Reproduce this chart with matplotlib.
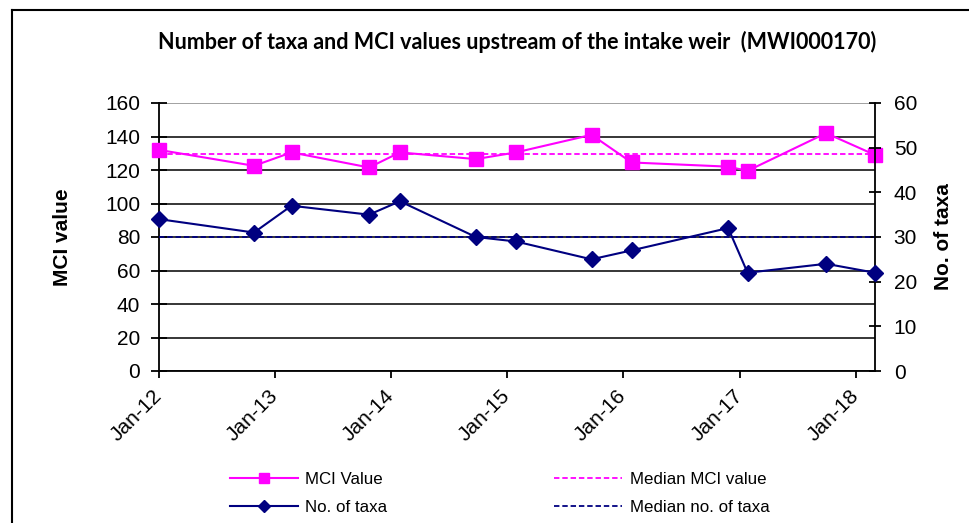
import matplotlib
matplotlib.use("Agg")
import matplotlib.pyplot as plt
import matplotlib.dates as mdates
from matplotlib.lines import Line2D
import pandas as pd

# ---- data ----
sample_dates = ["2012-01-01", "2012-10-26", "2013-02-21", "2013-10-23", "2014-01-28",
                "2014-09-24", "2015-01-28", "2015-09-23", "2016-01-27", "2016-11-26",
                "2017-01-26", "2017-09-30", "2018-03-03"]
mci_values = [132, 122.5, 130.5, 121.5, 130.5, 126.5, 130.5, 141, 124.5, 122, 119.5, 142, 129]
taxa_counts = [34, 31, 37, 35, 38, 30, 29, 25, 27, 32, 22, 24, 22]
median_mci = 129.5
median_taxa = 30
tick_years = ["2012-01-01", "2013-01-01", "2014-01-01", "2015-01-01",
              "2016-01-01", "2017-01-01", "2018-01-01"]
left_ticks = [0, 20, 40, 60, 80, 100, 120, 140, 160]
right_ticks = [0, 10, 20, 30, 40, 50, 60]

title = "Number of taxa and MCI values upstream of the intake weir  (MWI000170)"
labels = ["MCI Value", "No. of taxa", "Median MCI value", "Median no. of taxa"]

MAG = "#FF00FF"
NAVY = "#000080"

dates = pd.to_datetime(sample_dates)
ticks = pd.to_datetime(tick_years)

plt.rcParams['font.family'] = ['Liberation Sans', 'DejaVu Sans']

fig = plt.figure(figsize=(9.70, 5.23), dpi=100)
ax = fig.add_axes([159/970, 1-371/523, (875-159)/970, (371-103)/523])
ax2 = ax.twinx()

# grid
ax.set_ylim(0, 160)
ax.set_yticks(left_ticks)
ax.yaxis.grid(True, color='black', linewidth=1.1)
ax.set_axisbelow(True)
ax2.set_ylim(0, 60)
ax2.set_yticks(right_ticks)

# series
l1, = ax.plot(dates, mci_values, color=MAG, marker='s', markersize=10, linewidth=1.5,
              label=labels[0], clip_on=False, zorder=3)
l3 = ax.axhline(median_mci, color=MAG, linestyle=(0, (3, 1.6)), linewidth=1.3, label=labels[2])
l2, = ax2.plot(dates, taxa_counts, color=NAVY, marker='D', markersize=8, linewidth=1.5,
               label=labels[1], clip_on=False, zorder=3)
l4 = ax2.axhline(median_taxa, color=NAVY, linestyle=(0, (3, 1.6)), linewidth=1.3, label=labels[3])

ax.set_xlim(dates[0], dates[-1])
ax.set_xticks(ticks)
ax.xaxis.set_major_formatter(mdates.DateFormatter('%b-%y'))

for a in (ax, ax2):
    for s in a.spines.values():
        s.set_color('black')
        s.set_linewidth(1.3)
    a.spines['top'].set_visible(False)
ax2.spines['left'].set_visible(False)
ax2.spines['bottom'].set_visible(False)
ax.spines['right'].set_visible(False)

# top grid line grey
gl = ax.yaxis.get_gridlines()
gl[-1].set_color('#888888')

ax.tick_params(axis='y', direction='inout', length=11, width=1.3, labelsize=15, pad=8)
ax2.tick_params(axis='y', direction='inout', length=9, width=1.3, labelsize=15, pad=9)
ax.tick_params(axis='x', direction='out', length=5, width=1.3, labelsize=15, pad=11)
for lab in ax.get_xticklabels():
    lab.set_rotation(45)
    lab.set_ha('right')
    lab.set_va('center')
    lab.set_rotation_mode('anchor')

ax.set_ylabel("MCI value", fontsize=15, fontweight='bold', labelpad=24)
ax2.set_ylabel("No. of taxa", fontsize=15, fontweight='bold', labelpad=12)

fig.text(517/970, 1-42/523, title, ha='center', va='center', fontsize=15.5,
         fontweight='bold', family=['Lato', 'DejaVu Sans'])

fig.legend([l1, l2, l3, l4], labels, ncol=2, frameon=False, loc='center left',
           bbox_to_anchor=(230/970, 1-493.5/523), fontsize=12.2, handlelength=4.0,
           handletextpad=0.45, columnspacing=9.85, labelspacing=0.75, borderpad=0,
           borderaxespad=0, markerscale=0.75)

# figure border (top and left)
fig.add_artist(Line2D([12/970, 1], [1-9.5/523, 1-9.5/523], transform=fig.transFigure,
                      color='black', linewidth=1.5))
fig.add_artist(Line2D([12/970, 12/970], [0, 1-9.5/523], transform=fig.transFigure,
                      color='black', linewidth=1.5))

fig.savefig("out.png", dpi=100)
